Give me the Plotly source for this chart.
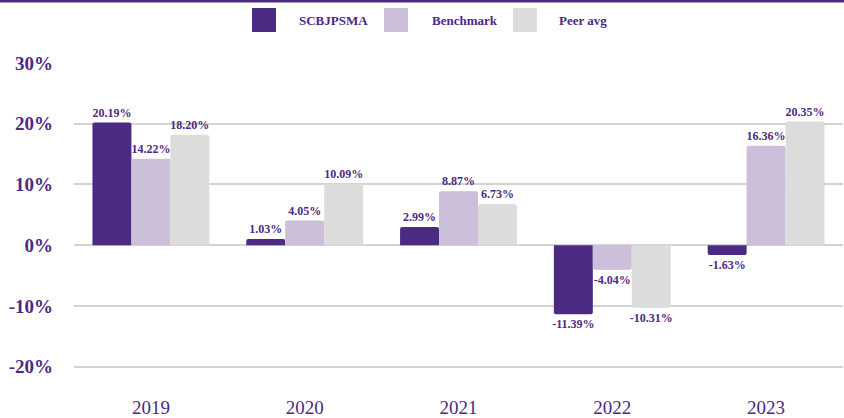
import plotly.graph_objects as go

years = ["2019", "2020", "2021", "2022", "2023"]
series_names = ["SCBJPSMA", "Benchmark", "Peer avg"]
scb = [20.19, 1.03, 2.99, -11.39, -1.63]
bench = [14.22, 4.05, 8.87, -4.04, 16.36]
peer = [18.20, 10.09, 6.73, -10.31, 20.35]
y_ticks = [-20, -10, 0, 10, 20, 30]
y_tick_labels = ["-20%", "-10%", "0%", "10%", "20%", "30%"]

colors = ["#4B2A84", "#CBBFD9", "#DCDCDC"]
purple = "#4B2A84"
font_fam = "Liberation Serif"

W, H = 844, 418
ML, MR, MT, MB = 74, 1, 63, 21
pw, ph = W - ML - MR, H - MT - MB

fig = go.Figure()
for name, vals, col in zip(series_names, [scb, bench, peer], colors):
    fig.add_trace(go.Bar(
        x=years, y=vals, name=name, marker_color=col, marker_line_width=0,
        text=[f"{v:.2f}%" for v in vals], textposition="outside",
        textfont=dict(family=font_fam, size=12, color=purple, weight="bold"),
        constraintext="none", cliponaxis=False, showlegend=False,
        marker_cornerradius=2,
    ))

fig.update_layout(
    width=W, height=H,
    margin=dict(l=ML, r=MR, t=MT, b=MB, autoexpand=False),
    barmode="group", bargap=0.24, bargroupgap=0,
    plot_bgcolor="white", paper_bgcolor="white",
    font=dict(family=font_fam, color=purple),
    showlegend=False,
)
fig.update_xaxes(
    showgrid=False, showline=False, ticks="", automargin=False,
    ticklabelstandoff=-3,
    tickfont=dict(family=font_fam, size=19, color=purple),
)
fig.update_yaxes(
    range=[-25, 30], tickvals=y_ticks, ticktext=y_tick_labels,
    showgrid=True, gridcolor="#D3D3D3", gridwidth=2,
    zeroline=True, zerolinecolor="#D3D3D3", zerolinewidth=2,
    showline=False, ticks="", ticklabelstandoff=20, automargin=False,
    tickfont=dict(family=font_fam, size=19, color=purple, weight="bold"),
)

# top rule
fig.add_shape(type="rect", xref="paper", yref="paper",
              x0=-ML / pw, x1=1 + MR / pw,
              y0=(H - MB - 2.5) / ph, y1=(H - MB + 1) / ph,
              fillcolor=purple, line_width=0, layer="above")

# custom legend (large squares)
leg_sq_x = [252, 384, 513]
leg_txt_x = [297, 430, 557]
for name, col, sx, tx in zip(series_names, colors, leg_sq_x, leg_txt_x):
    fig.add_shape(type="rect", xref="paper", yref="paper",
                  x0=(sx - ML) / pw, x1=(sx + 24 - ML) / pw,
                  y0=(H - MB - 32) / ph, y1=(H - MB - 8) / ph,
                  fillcolor=col, line_width=0)
    fig.add_annotation(xref="paper", yref="paper",
                       x=(tx - ML) / pw, y=(H - MB - 20) / ph,
                       xanchor="left", yanchor="middle", showarrow=False,
                       text=f"<b>{name}</b>",
                       font=dict(family=font_fam, size=13, color=purple))

fig.write_html("out.html", config={"displayModeBar": False},
               post_script="document.body.style.margin='0px';document.body.style.overflow='hidden';")
